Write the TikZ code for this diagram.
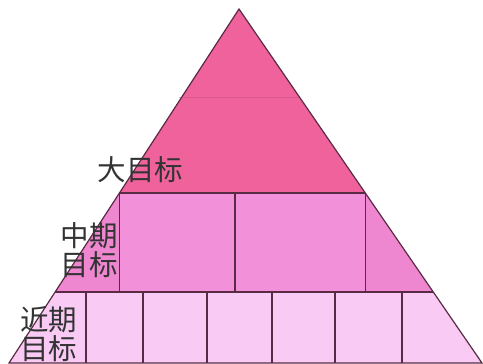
\documentclass[tikz,border=0pt]{standalone}
\usepackage{fontspec}
\newfontfamily\cjk{Noto Sans CJK SC}
\definecolor{topc}{HTML}{F0629C}
\definecolor{midc}{HTML}{F290DA}
\definecolor{midside}{HTML}{EE86D0}
\definecolor{lowc}{HTML}{F8CAF4}
\definecolor{edge}{HTML}{5A2A44}
\definecolor{txt}{HTML}{333333}
\tikzset{
  divline/.style={draw=edge, line width=1.2pt},
  lbl/.style={font=\cjk\fontsize{28.5}{29}\selectfont, text=txt, align=center, inner sep=0pt},
}
\begin{document}
\begin{tikzpicture}[x=1pt,y=-1pt]
\useasboundingbox (0,0) rectangle (483,364);
\coordinate (A) at (239,9);
\coordinate (BL) at (9,363);
\coordinate (BR) at (482,363);
\coordinate (L1) at (119.4,193);
\coordinate (R1) at (365.1,193);
\coordinate (L2) at (55,292);
\coordinate (R2) at (433,292);
% fills
\fill[lowc] (L2) -- (R2) -- (BR) -- (BL) -- cycle;
\fill[midside] (L1) -- (R1) -- (R2) -- (L2) -- cycle;
\fill[midc] (L1) rectangle (R1 |- L2);
\fill[topc] (A) -- (R1) -- (L1) -- cycle;
% faint line in top band
\draw[draw=topc!85!black, line width=0.6pt, opacity=0.5] (179,97) -- (299,97);
% band dividers
\draw[divline] (L1) -- (R1);
\draw[divline] (L2) -- (R2);
\draw[divline] (L1) -- (L1 |- L2);
\draw[divline] (235,193) -- (235,292);
\draw[divline] (R1) -- (R1 |- L2);
\foreach \x in {86,143,207,272,335,402}
  \draw[divline] (\x,292) -- (\x,363);
% outline
\draw[divline, line join=miter] (A) -- (BR) -- (BL) -- cycle;
% labels
\node[lbl] (big) at (140.5,170) {大目标};
\node[lbl] (mid) at (89,250) {中期\\目标};
\node[lbl] (near) at (48.5,334) {近期\\目标};
\end{tikzpicture}
\end{document}
